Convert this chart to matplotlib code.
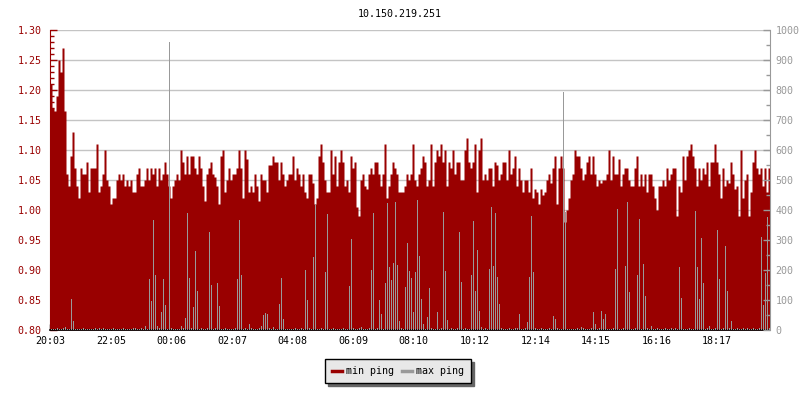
import numpy as np
import matplotlib
matplotlib.use("Agg")
import matplotlib.pyplot as plt
from matplotlib.lines import Line2D
from matplotlib.ticker import MultipleLocator, FormatStrFormatter

plt.rcParams['font.family'] = ['DejaVu Sans Mono']

title = "10.150.219.251"
sample_minutes = 4
tick_labels = ["20:03", "22:05", "00:06", "02:07", "04:08", "06:09",
               "08:10", "10:12", "12:14", "14:15", "16:16", "18:17"]

# min ping (left axis), one value per 4 minutes
min_ping_a = [1.21, 1.17, 1.165, 1.19, 1.25, 1.23, 1.27, 1.165,
              1.06, 1.04, 1.09, 1.13, 1.07, 1.04, 1.02, 1.07, 1.06, 1.06,
              1.08, 1.03, 1.07, 1.07, 1.07, 1.11, 1.03, 1.04, 1.06, 1.10,
              1.05, 1.04, 1.01, 1.02, 1.02, 1.05, 1.06, 1.05, 1.06, 1.04,
              1.05, 1.04, 1.05, 1.03, 1.03, 1.06, 1.07, 1.04, 1.04, 1.05,
              1.07, 1.05, 1.07, 1.06, 1.07, 1.04, 1.07, 1.05, 1.06, 1.08,
              1.06, 1.04, 1.02, 1.04, 1.05, 1.06, 1.05, 1.10, 1.08, 1.06,
              1.09, 1.06, 1.09, 1.09, 1.07]
min_ping_b = [1.06, 1.09, 1.07, 1.04, 1.015, 1.06, 1.07, 1.08, 1.06, 1.055,
              1.04, 1.01, 1.09, 1.10, 1.03, 1.05, 1.07, 1.05, 1.06, 1.06,
              1.07, 1.10, 1.07, 1.02, 1.10, 1.085, 1.03, 1.04, 1.03, 1.06,
              1.04, 1.015, 1.06, 1.05, 1.05, 1.03, 1.075, 1.075, 1.09, 1.08,
              1.08, 1.05, 1.08, 1.06, 1.04, 1.05, 1.06, 1.06, 1.09, 1.05,
              1.07, 1.06, 1.04, 1.06, 1.03, 1.02, 1.06, 1.06, 1.045, 1.01,
              1.02, 1.09, 1.11, 1.08, 1.05, 1.03, 1.03, 1.10, 1.06, 1.09,
              1.04, 1.08]
min_ping_c = [1.10, 1.08, 1.04, 1.05, 1.03, 1.09, 1.07, 1.08, 1.005, 0.99,
              1.05, 1.06, 1.04, 1.035, 1.06, 1.07, 1.06, 1.08, 1.08, 1.06,
              1.04, 1.06, 1.11, 1.02, 1.04, 1.06, 1.08, 1.07, 1.06, 1.03,
              1.03, 1.03, 1.04, 1.06, 1.05, 1.06, 1.11,
              1.05, 1.04, 1.06, 1.07, 1.09, 1.08, 1.04, 1.05, 1.11, 1.04,
              1.08, 1.10, 1.09, 1.11, 1.08, 1.10, 1.04, 1.08, 1.07, 1.10,
              1.06, 1.08, 1.08, 1.05, 1.05, 1.10, 1.12, 1.08, 1.07, 1.08,
              1.11, 1.03, 1.10, 1.12, 1.05]
min_ping_d = [1.06, 1.05, 1.07, 1.07, 1.04, 1.08, 1.075, 1.05, 1.06, 1.08,
              1.08, 1.05, 1.10, 1.06, 1.07, 1.09, 1.04, 1.07, 1.05, 1.03,
              1.05, 1.05, 1.03, 1.07, 1.02, 1.035, 1.03, 1.01, 1.035, 1.025,
              1.03, 1.05, 1.06, 1.045, 1.07, 1.09, 1.01, 1.07, 1.09, 1.07,
              0.98, 1.00, 1.02,
              1.05, 1.06, 1.10, 1.09, 1.09, 1.07, 1.05, 1.06, 1.08, 1.09,
              1.06, 1.09, 1.06, 1.04, 1.05, 1.045, 1.05, 1.05, 1.06, 1.10,
              1.05, 1.09, 1.06, 1.06, 1.085, 1.04, 1.06, 1.07, 1.07]
min_ping_e = [1.05, 1.04, 1.04, 1.07, 1.09, 1.04, 1.06, 1.04, 1.06, 1.03,
              1.06, 1.06, 1.04, 1.02, 1.00, 1.04, 1.04, 1.05, 1.04, 1.07,
              1.05, 1.06, 1.07, 1.07, 0.99, 1.04, 1.03, 1.09, 1.05, 1.09,
              1.10, 1.11, 1.09, 1.07, 1.04, 1.07, 1.05, 1.07, 1.06, 1.08,
              1.04, 1.08, 1.08, 1.11, 1.08, 1.06, 1.02, 1.07, 1.04, 1.05,
              1.045, 1.08, 1.06, 1.035, 1.04, 0.99, 1.10, 1.02,
              1.05, 1.06, 0.99, 1.03, 1.08, 1.10, 1.07, 1.06, 1.07, 1.04,
              1.07, 1.03, 1.07]

# max ping (right axis), one value per 4 minutes
max_ping = [
    5, 4, 4, 6, 4, 4, 8, 10, 5, 5, 105, 30, 5, 5, 4, 4, 6, 4, 5, 4,
    4, 5, 6, 4, 7, 4, 6, 5, 4, 4, 5, 6, 4, 4, 5, 4, 6, 4, 4, 5,
    5, 8, 6, 5, 4, 6, 4, 12, 5, 170, 98, 367, 183, 15, 6, 61, 170, 83, 5, 960,
    8, 5, 4, 4, 5, 15, 6, 40, 391, 175, 6, 77, 264, 130, 5, 6, 4, 5, 6, 327,
    150, 5, 6, 157, 80, 5, 4, 6, 5, 4, 5, 5, 6, 170, 367, 183, 5, 6, 4, 20,
    8, 5, 4, 5, 6, 15, 50, 58, 52, 6, 5, 10, 4, 5, 87, 174, 38, 5, 4, 5,
    4, 5, 6, 4, 5, 8, 5, 200, 100, 6, 5, 244, 420, 5, 4, 6, 5, 192, 387, 5,
    4, 6, 5, 4, 5, 4, 6, 5, 5, 148, 303, 6, 5, 4, 8, 10, 5, 4, 5, 6,
    200, 389, 5, 6, 100, 52, 5, 158, 422, 211, 167, 223, 428, 216, 30, 8, 5, 145, 289, 198,
    175, 60, 192, 435, 247, 105, 20, 5, 45, 140, 6, 5, 4, 60, 5, 6, 394, 197, 35, 5,
    6, 4, 5, 8, 328, 160, 5, 6, 5, 4, 183, 364, 130, 267, 62, 10, 5, 6, 5, 205,
    411, 215, 389, 177, 87, 6, 5, 4, 5, 6, 5, 4, 8, 6, 52, 5, 4, 6, 28, 177,
    380, 194, 8, 5, 4, 6, 5, 4, 5, 6, 5, 47, 38, 6, 5, 4, 795, 395, 5, 4,
    5, 4, 5, 6, 5, 10, 8, 5, 4, 5, 6, 60, 20, 5, 6, 62, 36, 52, 5, 4,
    5, 6, 202, 403, 5, 4, 6, 213, 428, 128, 5, 4, 6, 183, 370, 5, 221, 113, 6, 5,
    13, 5, 4, 6, 5, 4, 5, 6, 5, 4, 8, 5, 6, 5, 211, 107, 5, 4, 5, 6,
    5, 4, 398, 211, 103, 308, 157, 5, 6, 15, 5, 4, 6, 333, 170, 5, 6, 281, 130, 8,
    30, 5, 4, 6, 5, 4, 6, 5, 8, 5, 4, 6, 5, 4, 6, 311, 83, 190, 378, 8,
]

min_ping = np.array(min_ping_a + min_ping_b + min_ping_c + min_ping_d + min_ping_e)
n = min(len(min_ping), len(max_ping))
min_ping = min_ping[:n]
max_vals = np.array(max_ping[:n], dtype=float)
t = np.arange(n) * sample_minutes

def minutes_since_start(lbl, start="20:03"):
    h, m = map(int, lbl.split(":"))
    h0, m0 = map(int, start.split(":"))
    return ((h * 60 + m) - (h0 * 60 + m0)) % 1440

tick_pos = [minutes_since_start(l) for l in tick_labels]

RED = '#990000'
GREY = '#999999'
FS = 7.2

fig = plt.figure(figsize=(8, 4), dpi=100)
ax = fig.add_axes([0.0625, 0.175, 0.9, 0.75])

edges = np.append(t, t[-1] + sample_minutes)
vals = np.append(min_ping, min_ping[-1])
ax.fill_between(edges, vals, 0.8, step='post', color=RED, linewidth=0, zorder=2)

ax.set_xlim(0, n * sample_minutes)
ax.set_ylim(0.80, 1.30)
ax.yaxis.set_major_locator(MultipleLocator(0.05))
ax.yaxis.set_minor_locator(MultipleLocator(0.01))
ax.yaxis.set_major_formatter(FormatStrFormatter('%.2f'))
ax.grid(True, axis='y', which='major', color='#c4c4c4', linewidth=1, zorder=0)
ax.set_axisbelow(True)

ax.set_xticks(tick_pos)
ax.set_xticklabels(tick_labels)
ax.tick_params(axis='x', direction='in', length=4, width=1, color='black',
               labelsize=FS, labelcolor='black', pad=4)
ax.tick_params(axis='y', which='major', direction='in', length=5, width=1,
               color=RED, labelcolor=RED, labelsize=FS, pad=6)
ax.tick_params(axis='y', which='minor', direction='in', length=3, width=1, color=RED)

for s in ['top', 'right']:
    ax.spines[s].set_visible(False)
ax.spines['left'].set_color(RED)
ax.spines['bottom'].set_color('black')
ax.spines['bottom'].set_linewidth(1.2)

ax2 = ax.twinx()
ax2.bar(t + sample_minutes * 0.25, max_vals, width=sample_minutes * 0.55,
        align='edge', color=GREY, linewidth=0, antialiased=False, zorder=3)
ax2.set_ylim(0, 1000)
ax2.yaxis.set_major_locator(MultipleLocator(100))
ax2.yaxis.set_minor_locator(MultipleLocator(50))
ax2.tick_params(axis='y', which='major', direction='in', length=5, width=1,
                color=GREY, labelcolor=GREY, labelsize=FS, pad=4)
ax2.tick_params(axis='y', which='minor', direction='in', length=3, width=1, color=GREY)
for s in ['top', 'left', 'bottom']:
    ax2.spines[s].set_visible(False)
ax2.spines['right'].set_color(GREY)

fig.text(0.5, 1 - 14 / 400, title, ha='center', va='center', fontsize=FS)

handles = [Line2D([], [], color=RED, lw=2.5), Line2D([], [], color=GREY, lw=2.5)]
leg = fig.legend(handles, ['min ping', 'max ping'], loc='center',
                 bbox_to_anchor=(0.4975, 0.0725), ncol=2, fontsize=FS,
                 frameon=True, fancybox=False,
                 shadow={'ox': 2.5, 'oy': -2.5, 'facecolor': '#666666',
                         'edgecolor': '#666666', 'alpha': 1},
                 handlelength=1.0, handletextpad=0.4, columnspacing=0.8,
                 borderpad=0.7, borderaxespad=0)
leg.get_frame().set_facecolor('#e8e8e8')
leg.get_frame().set_edgecolor('black')
leg.get_frame().set_linewidth(1)
leg.get_frame().set_alpha(1)

fig.savefig('out.png', dpi=100)
